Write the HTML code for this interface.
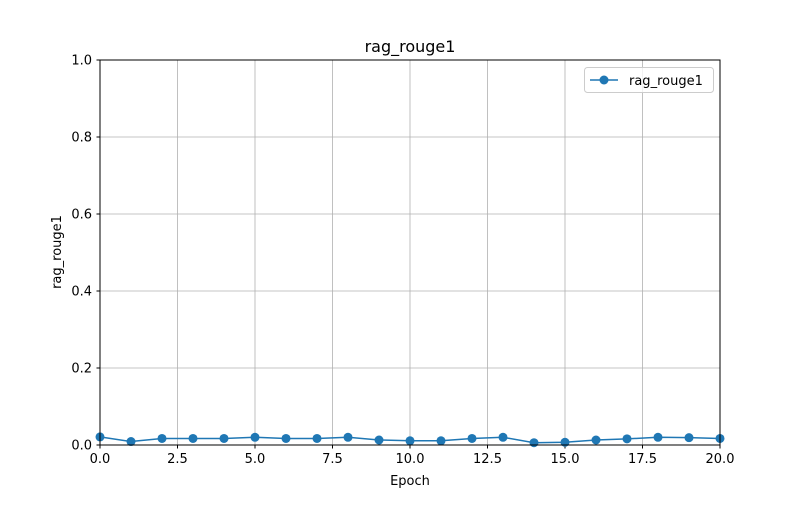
<!DOCTYPE html>
<html><head><meta charset="utf-8"><style>
body{margin:0;background:#fff;font-family:"Liberation Sans","DejaVu Sans",sans-serif;}
svg text{font-family:"DejaVu Sans","Liberation Sans",sans-serif;}
</style></head><body>
<svg id="chart" width="800" height="500" xmlns="http://www.w3.org/2000/svg">
<rect width="800" height="500" fill="#fff"/>
<g id="grid"></g>
<g id="ticks"></g>
<g id="series"></g>
<rect x="100" y="60" width="620" height="385" fill="none" stroke="#000" stroke-width="1"/>
<text x="410" y="52" text-anchor="middle" font-size="16">rag_rouge1</text>
<text x="410" y="485" text-anchor="middle" font-size="13">Epoch</text>
<text transform="translate(61,252) rotate(-90)" text-anchor="middle" font-size="13">rag_rouge1</text>
<g>
<rect x="584.5" y="67.5" width="129" height="25" rx="3" fill="#fff" fill-opacity="0.8" stroke="#ccc"/>
<line x1="590" y1="80" x2="618" y2="80" stroke="#1f77b4" stroke-width="1.5"/>
<circle cx="604" cy="80" r="4.5" fill="#1f77b4"/>
<text x="629" y="85" font-size="13">rag_rouge1</text>
</g>
</svg>
<script>
const epochs=[0,1,2,3,4,5,6,7,8,9,10,11,12,13,14,15,16,17,18,19,20];
const values=[0.021,0.009,0.017,0.017,0.017,0.020,0.017,0.017,0.020,0.013,0.011,0.011,0.017,0.020,0.006,0.007,0.013,0.016,0.020,0.019,0.017];
const xTicks=[0,2.5,5,7.5,10,12.5,15,17.5,20];
const xTickLabels=["0.0","2.5","5.0","7.5","10.0","12.5","15.0","17.5","20.0"];
const yTicks=[0,0.2,0.4,0.6,0.8,1.0];
const yTickLabels=["0.0","0.2","0.4","0.6","0.8","1.0"];
const NS="http://www.w3.org/2000/svg";
const X=v=>100+v/20*620, Y=v=>445-v*385;
function mk(t,a,p){const e=document.createElementNS(NS,t);for(const k in a)e.setAttribute(k,a[k]);p.appendChild(e);return e;}
const grid=document.getElementById('grid'),ticks=document.getElementById('ticks'),ser=document.getElementById('series');
xTicks.forEach((t,i)=>{
 const g=mk('line',{x1:X(t),x2:X(t),y1:60,y2:445,stroke:'#b0b0b0','stroke-width':0.8},grid);
 
 
 mk('line',{x1:X(t),x2:X(t),y1:445,y2:448.5,stroke:'#000'},ticks);
 const l=mk('text',{x:X(t),y:463,'text-anchor':'middle','font-size':13},ticks);l.textContent=xTickLabels[i];
 
 
});
yTicks.forEach((t,i)=>{
 const g=mk('line',{x1:100,x2:720,y1:Y(t),y2:Y(t),stroke:'#b0b0b0','stroke-width':0.8},grid);
 
 
 mk('line',{x1:96.5,x2:100,y1:Y(t),y2:Y(t),stroke:'#000'},ticks);
 const l=mk('text',{x:92,y:Y(t)+4.5,'text-anchor':'end','font-size':13},ticks);l.textContent=yTickLabels[i];
 
 
});
const pl=mk('polyline',{points:epochs.map((e,i)=>X(e)+','+Y(values[i])).join(' '),fill:'none',stroke:'#1f77b4','stroke-width':1.5},ser);


epochs.forEach((e,i)=>{
 const c=mk('circle',{cx:X(e),cy:Y(values[i]),r:4.5,fill:'#1f77b4'},ser);
 
 
});
</script>
</body></html>
